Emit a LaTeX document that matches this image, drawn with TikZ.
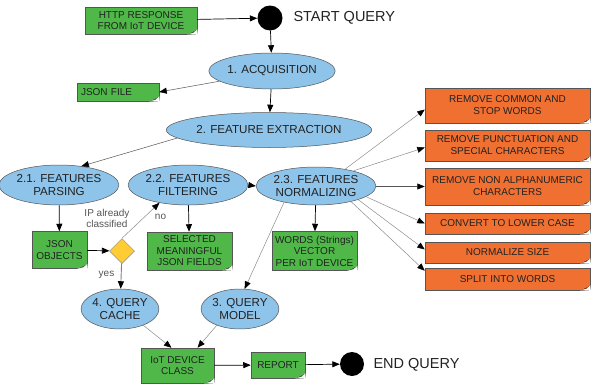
\documentclass[tikz,border=0pt]{standalone}
\usepackage{fontspec}
\setmainfont{Liberation Sans}
\usetikzlibrary{shapes.geometric,arrows.meta,calc}

\definecolor{notegreen}{HTML}{4FB848}
\definecolor{notegreendk}{HTML}{2F6E2A}
\definecolor{taskorange}{HTML}{F07032}
\definecolor{taskorangedk}{HTML}{8A3A12}
\definecolor{stepblue}{HTML}{8EC3EA}
\definecolor{decyellow}{HTML}{FFCC33}
\definecolor{edgegray}{HTML}{555555}
\definecolor{lightedge}{HTML}{8C8C8C}
\definecolor{inktext}{HTML}{222222}

\tikzset{
  head/.style={-{Triangle[length=7.5pt,width=6pt,color=black]}},
  flowline/.style={head, draw=black, line width=0.7pt},
  thinline/.style={head, draw=edgegray, line width=0.5pt},
  faintline/.style={head, draw=lightedge, line width=0.5pt},
  notebox/.style={rectangle, draw=edgegray, line width=0.5pt, fill=notegreen,
    text=inktext, font=\fontsize{10}{11.5}\selectfont, align=center, inner sep=1pt},
  taskbox/.style={rectangle, draw=edgegray, line width=0.5pt, fill=taskorange,
    text=inktext, font=\fontsize{10}{12}\selectfont, align=center, inner sep=1pt,
    minimum width=165pt},
  stepell/.style={ellipse, draw=edgegray, line width=0.5pt, fill=stepblue,
    text=inktext, font=\fontsize{11.6}{13.5}\selectfont, align=center, inner sep=0pt},
  termdot/.style={circle, fill=black, minimum size=25pt, inner sep=0pt},
  termlabel/.style={anchor=west, text=inktext, font=\fontsize{14.5}{16}\selectfont},
  edgelabel/.style={text=edgegray, font=\fontsize{10}{11}\selectfont, align=center},
}

% curled page corner at the lower right of a note box
\newcommand\curlcorner[2]{%
  \fill[white] ([xshift=-10pt]#1.south east) -- ([yshift=5pt]#1.south east)
    -- ([xshift=0.6pt,yshift=-0.6pt]#1.south east) -- cycle;
  \fill[#2] ([xshift=-10pt]#1.south east) -- ([yshift=5pt]#1.south east)
    -- ([xshift=-4pt,yshift=1.5pt]#1.south east) -- cycle;
}

\begin{document}
\begin{tikzpicture}[x=1pt,y=-1pt]
\fill[white] (0,0) rectangle (595,386);
\useasboundingbox (0,0) rectangle (595,386);

% start and end
\node[notebox, minimum width=112pt, minimum height=27pt] (http) at (141,20.5) {HTTP RESPONSE\\FROM IoT DEVICE};
\node[termdot] (startdot) at (270,18) {};
\node[termlabel] (startlbl) at (290,18) {START QUERY};

% main steps
\node[stepell, minimum width=121pt, minimum height=36pt] (acq) at (272,71) {1. ACQUISITION};
\node[notebox, minimum width=82pt, minimum height=18pt, text width=74pt, align=left] (jsonfile) at (118,92) {JSON FILE};
\node[stepell, minimum width=158pt, minimum height=35pt] (featx) at (269,130) {2. FEATURE EXTRACTION};

\node[stepell, minimum width=105pt, minimum height=40pt] (parse) at (59,185) {2.1. FEATURES\\PARSING};
\node[stepell, minimum width=101pt, minimum height=40pt] (filt) at (188,185) {2.2. FEATURES\\FILTERING};
\node[stepell, minimum width=107pt, minimum height=38pt] (norm) at (316,186) {2.3. FEATURES\\NORMALIZING};

\node[notebox, minimum width=55pt, minimum height=37pt] (jsonobj) at (59.5,250) {JSON\\OBJECTS};
\node[diamond, draw=lightedge, line width=0.5pt, fill=decyellow, minimum width=25pt, minimum height=25pt, inner sep=0pt] (ipcheck) at (122,251) {};
\node[notebox, minimum width=85pt, minimum height=38pt] (selected) at (189.5,251) {SELECTED\\MEANINGFUL\\JSON FIELDS};
\node[notebox, minimum width=85pt, minimum height=39pt] (words) at (314.5,251) {WORDS (Strings)\\VECTOR\\PER IoT DEVICE};

\node[stepell, minimum width=74pt, minimum height=40pt] (cache) at (120,309) {4. QUERY\\CACHE};
\node[stepell, minimum width=74pt, minimum height=40pt] (model) at (240,309) {3. QUERY\\MODEL};

\node[notebox, minimum width=73pt, minimum height=35pt] (iot) at (177.5,365.5) {IoT DEVICE\\CLASS};
\node[notebox, minimum width=54pt, minimum height=26pt] (report) at (278,365) {REPORT};
\node[termdot, minimum size=24pt] (stopdot) at (352,364) {};
\node[termlabel] (stoplbl) at (370,365) {END QUERY};

% normalization tasks
\node[taskbox, minimum height=35pt] (o1) at (507.5,105.5) {REMOVE COMMON AND\\STOP WORDS};
\node[taskbox, minimum height=31pt] (o2) at (507.5,145.5) {REMOVE PUNCTUATION AND\\SPECIAL CHARACTERS};
\node[taskbox, minimum height=37pt] (o3) at (507.5,186.5) {REMOVE NON ALPHANUMERIC\\CHARACTERS};
\node[taskbox, minimum height=21pt] (o4) at (507.5,223.5) {CONVERT TO LOWER CASE};
\node[taskbox, minimum height=21pt] (o5) at (507.5,252.5) {NORMALIZE SIZE};
\node[taskbox, minimum height=22pt] (o6) at (507.5,279) {SPLIT INTO WORDS};

\foreach \n in {http,jsonfile,jsonobj,selected,words,iot,report}{\curlcorner{\n}{notegreendk}}
\foreach \n in {o1,o2,o3,o4,o5,o6}{\curlcorner{\n}{taskorangedk}}

% edge labels
\node[edgelabel] (iplbl) at (107,218.5) {IP already\\classified};
\node[edgelabel] (nolbl) at (160.5,217) {no};
\node[edgelabel] (yeslbl) at (106.5,275) {yes};

% connectors
\draw[flowline] (http) -- (startdot);
\draw[flowline] (startdot) -- (acq);
\draw[thinline] (acq.191) -- (jsonfile.east);
\draw[flowline] (acq) -- (featx);
\draw[thinline] (featx.185) -- (parse.40);
\draw[flowline] (parse) -- (jsonobj);
\draw[flowline] (jsonobj) -- (ipcheck);
\draw[faintline] (ipcheck.north) -- (filt.212);
\draw[head, draw=gray, line width=0.9pt] (ipcheck) -- (cache);
\draw[flowline] (filt) -- (selected);
\draw[flowline] (filt.east) -- (norm.west);
\draw[flowline] (norm) -- (words);
\draw[faintline] (norm.207) -- (model.77);

\draw[faintline] (norm.30) -- ([yshift=-4pt]o1.west);
\draw[faintline] (norm.22) -- ([yshift=-2pt]o2.west);
\draw[thinline] (norm.east |- o3.west) -- (o3.west);
\draw[faintline] (norm.-12) -- (o4.west);
\draw[faintline] (norm.-18) -- ([yshift=3pt]o5.west);
\draw[faintline] (norm.-24) -- ([yshift=-3pt]o6.north west);

\draw[faintline] (cache.-35) -- ($(iot.north)+(-6,0)$);
\draw[faintline] (model.215) -- ($(iot.north)+(20,0)$);
\draw[flowline] (iot) -- (report);
\draw[flowline] (report) -- (stopdot);
\end{tikzpicture}
\end{document}
